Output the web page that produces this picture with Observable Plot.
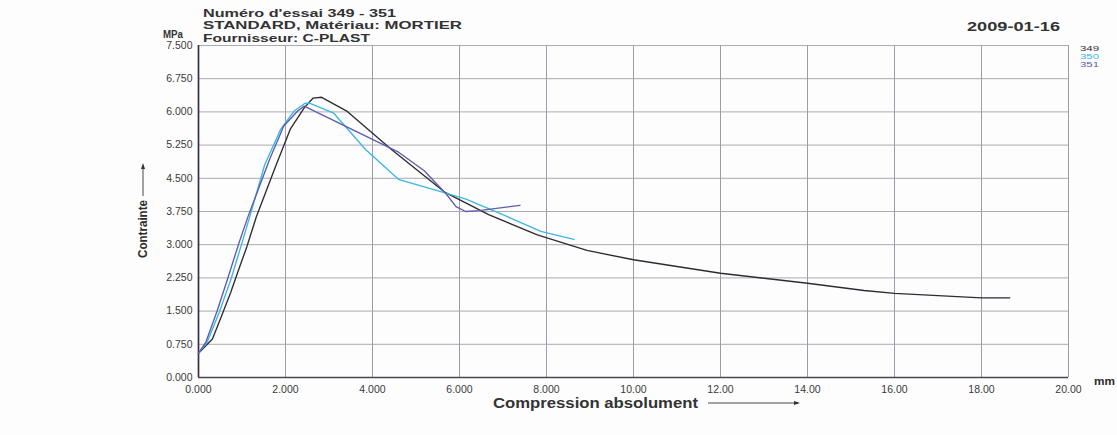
<!DOCTYPE html>
<html><head><meta charset="utf-8">
<script src="https://cdn.jsdelivr.net/npm/d3@7"></script>
<script src="https://cdn.jsdelivr.net/npm/@observablehq/plot@0.6"></script>
<style>
body{margin:0;background:#fff;}
#chart{position:relative;width:1117px;height:435px;overflow:hidden;background:#fdfdfe;}
</style>
</head><body><div id="chart"></div>
<script>
// ---- data ----
const xTicks = [0, 2, 4, 6, 8, 10, 12, 14, 16, 18, 20];
const xTickLabels = ["0.000","2.000","4.000","6.000","8.000","10.00","12.00","14.00","16.00","18.00","20.00"];
const yTicks = [0, 0.75, 1.5, 2.25, 3, 3.75, 4.5, 5.25, 6, 6.75, 7.5];
const yTickLabels = ["0.000","0.750","1.500","2.250","3.000","3.750","4.500","5.250","6.000","6.750","7.500"];
const seriesNames = ["349", "350", "351"];
const seriesColors = ["#2e2b33", "#3cb6e4", "#5d5cae"];

const x349 = [0, 0.32, 0.53, 0.74, 0.90, 1.11, 1.33, 1.78, 2.11, 2.43, 2.63, 2.83, 3.42, 4.45, 5.67, 6.67, 7.79, 8.93, 10.0, 12.0, 14.0, 15.3, 16.0, 17.0, 18.0, 18.65];
const y349 = [0.55, 0.87, 1.39, 1.92, 2.37, 2.95, 3.63, 4.79, 5.61, 6.09, 6.31, 6.33, 6.01, 5.14, 4.18, 3.68, 3.22, 2.87, 2.66, 2.355, 2.13, 1.965, 1.90, 1.85, 1.80, 1.80];

const x350 = [0, 0.20, 0.48, 0.75, 1.00, 1.18, 1.52, 1.89, 2.20, 2.44, 2.55, 3.11, 3.84, 4.61, 5.63, 6.15, 6.90, 7.87, 8.63];
const y350 = [0.55, 0.80, 1.48, 2.23, 3.04, 3.64, 4.80, 5.61, 6.02, 6.19, 6.20, 5.97, 5.15, 4.47, 4.18, 4.03, 3.72, 3.30, 3.12];

const x351 = [0, 0.17, 0.42, 0.67, 0.93, 1.14, 1.64, 1.96, 2.28, 2.43, 4.60, 5.19, 5.70, 5.92, 6.14, 6.45, 7.39];
const y351 = [0.55, 0.80, 1.48, 2.23, 3.04, 3.64, 4.94, 5.68, 6.02, 6.13, 5.09, 4.67, 4.14, 3.86, 3.75, 3.77, 3.89];

const xsBySeries = [x349, x350, x351];
const ysBySeries = [y349, y350, y351];
const rows = seriesNames.flatMap((s, k) => xsBySeries[k].map((x, i) => ({series: s, x, y: ysBySeries[k][i]})));

// ---- chart ----
const font = "'Liberation Sans', Arial, sans-serif";
const fmtX = d => xTickLabels[xTicks.indexOf(d)];
const fmtY = d => yTickLabels[yTicks.indexOf(d)];

const chart = Plot.plot({
  width: 1117, height: 435,
  marginLeft: 198, marginRight: 49, marginTop: 45, marginBottom: 58,
  style: {background: "transparent", fontFamily: font, fontSize: "10px", color: "#3a3a3a", overflow: "visible"},
  x: {domain: [0, 20]},
  y: {domain: [0, 7.5]},
  color: {domain: seriesNames, range: seriesColors},
  marks: [
    Plot.gridX(xTicks, {stroke: "#958fa0", strokeOpacity: 1, strokeWidth: 0.9}),
    Plot.gridY(yTicks, {stroke: "#a2a2a6", strokeOpacity: 1, strokeWidth: 0.9}),
    Plot.axisX(xTicks, {tickSize: 0, tickPadding: 8, tickFormat: fmtX, label: null, fontSize: 10.5}),
    Plot.axisY(yTicks, {tickSize: 0, tickPadding: 6, tickFormat: fmtY, label: null, fontSize: 10.5}),
    Plot.ruleX([0], {stroke: "#3a2c4c", strokeWidth: 1.7}),
    Plot.ruleY([0], {stroke: "#4a4552", strokeWidth: 1.4}),
    Plot.line(rows, {x: "x", y: "y", z: "series", stroke: "series", strokeWidth: 1.35, strokeLinejoin: "round"})
  ]
});
document.getElementById("chart").appendChild(chart);

// ---- annotations ----
const svg = d3.select(chart);
function txt(x, y, s, o = {}) {
  const t = svg.append("text").attr("x", x).attr("y", y).text(s)
    .attr("font-family", font).attr("font-size", o.size || 12)
    .attr("font-weight", o.weight || "normal").attr("fill", o.fill || "#2b2b2b")
    .attr("text-anchor", o.anchor || "start");
  if (o.len) t.attr("textLength", o.len).attr("lengthAdjust", "spacingAndGlyphs");
  if (o.transform) t.attr("transform", o.transform);
  return t;
}
txt(203, 16.5, "Numéro d'essai 349 - 351", {size: 11, weight: "bold", len: 193, fill: "#333"});
txt(203, 29.2, "STANDARD, Matériau: MORTIER", {size: 11, weight: "bold", len: 259, fill: "#333"});
txt(203, 41.9, "Fournisseur: C-PLAST", {size: 11, weight: "bold", len: 167, fill: "#333"});
txt(163, 38, "MPa", {size: 10, weight: "bold", len: 20, fill: "#333"});
txt(967, 31, "2009-01-16", {size: 13, weight: "bold", len: 93, fill: "#333"});
seriesNames.forEach((s, i) => txt(1080, 50.5 + i * 8, s, {size: 7, fill: seriesColors[i], len: 19}));
txt(1094, 385, "mm", {size: 11, weight: "bold", len: 21});
txt(493, 408, "Compression absolument", {size: 14, weight: "bold", len: 205, fill: "#333"});
txt(147, 229, "Contrainte", {size: 12, weight: "bold", anchor: "middle", len: 58, transform: "rotate(-90,147,229)"});

// arrows
svg.append("line").attr("x1", 708).attr("y1", 403).attr("x2", 798).attr("y2", 403).attr("stroke", "#333").attr("stroke-width", 0.9);
svg.append("path").attr("d", "M800,403 L794,401 L794,405 Z").attr("fill", "#333");
svg.append("line").attr("x1", 143).attr("y1", 196).attr("x2", 143).attr("y2", 166).attr("stroke", "#333").attr("stroke-width", 0.9);
svg.append("path").attr("d", "M143,163 L141,169 L145,169 Z").attr("fill", "#333");
</script>
</body></html>
